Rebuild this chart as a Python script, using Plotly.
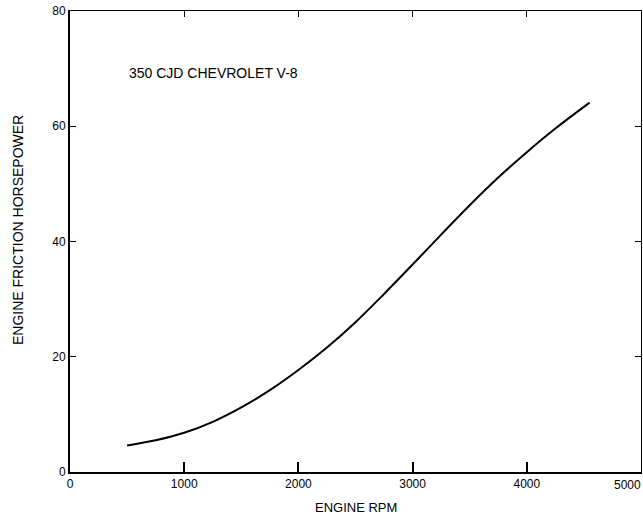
import plotly.graph_objects as go

rpm = [500, 750, 1000, 1250, 1500, 1750, 2000, 2250, 2500, 2750, 3000,
       3250, 3500, 3750, 4000, 4250, 4550]
friction_hp = [4.6, 5.5, 6.8, 8.7, 11.2, 14.2, 17.7, 21.6, 26.0, 30.9, 36.0,
               41.2, 46.3, 51.1, 55.5, 59.6, 64.1]

x_ticks = [0, 1000, 2000, 3000, 4000, 5000]
x_tick_text = ["0", "1000", "2000", "3000", "4000", ""]
last_x_label = "5000"
y_ticks = [0, 20, 40, 60, 80]
label = "350 CJD CHEVROLET V-8"

font = "Liberation Sans, Arial, sans-serif"

fig = go.Figure()
fig.add_trace(go.Scatter(x=rpm, y=friction_hp, mode="lines",
                         line=dict(color="black", width=2, shape="spline",
                                   smoothing=1.0),
                         showlegend=False, hoverinfo="skip"))
fig.add_trace(go.Scatter(x=[None], y=[None], xaxis="x2", yaxis="y2",
                         showlegend=False, hoverinfo="skip"))

fig.update_layout(
    width=643, height=525,
    margin=dict(l=70, r=2, t=11, b=53, autoexpand=False),
    paper_bgcolor="white", plot_bgcolor="white",
    font=dict(family=font, size=12, color="black"),
    xaxis=dict(range=[0, 5000], tickvals=x_ticks, ticktext=x_tick_text,
               ticks="inside", ticklen=10,
               tickwidth=2, tickcolor="black", showline=True, linewidth=2,
               linecolor="black", showgrid=False, zeroline=False,
               automargin=False, ticklabeloverflow="allow",
               tickfont=dict(size=12)),
    yaxis=dict(range=[0, 80], tickvals=y_ticks, ticks="inside", ticklen=6,
               tickwidth=1, tickcolor="black", showline=True, linewidth=2,
               linecolor="black", showgrid=False, zeroline=False,
               automargin=False, ticklabeloverflow="allow",
               tickfont=dict(size=12)),
    xaxis2=dict(range=[0, 5000], tickvals=x_ticks[1:-1], overlaying="x",
                side="top", ticks="inside", ticklen=6, tickcolor="black",
                showticklabels=False, showline=True, linewidth=1,
                linecolor="black", showgrid=False, zeroline=False,
                automargin=False),
    yaxis2=dict(range=[0, 80], tickvals=y_ticks[1:-1], overlaying="y",
                side="right", ticks="inside", ticklen=6, tickcolor="black",
                showticklabels=False, showline=True, linewidth=1,
                linecolor="black", showgrid=False, zeroline=False,
                automargin=False),
    annotations=[
        dict(x=500, y=69.2, xref="x", yref="y", text=label, showarrow=False,
             xanchor="left", yanchor="middle", font=dict(size=14)),
        dict(x=5000, y=0, xref="x", yref="y", text=last_x_label,
             showarrow=False, xanchor="right", yanchor="middle", xshift=2,
             yshift=-13, font=dict(size=12)),
        dict(x=0.5, y=-0.078, xref="paper", yref="paper", text="ENGINE RPM",
             showarrow=False, xanchor="center", yanchor="middle",
             font=dict(size=13)),
        dict(x=-0.091, y=0.525, xref="paper", yref="paper",
             text="ENGINE FRICTION HORSEPOWER", textangle=-90,
             showarrow=False, xanchor="center", yanchor="middle",
             font=dict(size=14)),
    ],
)

fig.write_html("out.html")
